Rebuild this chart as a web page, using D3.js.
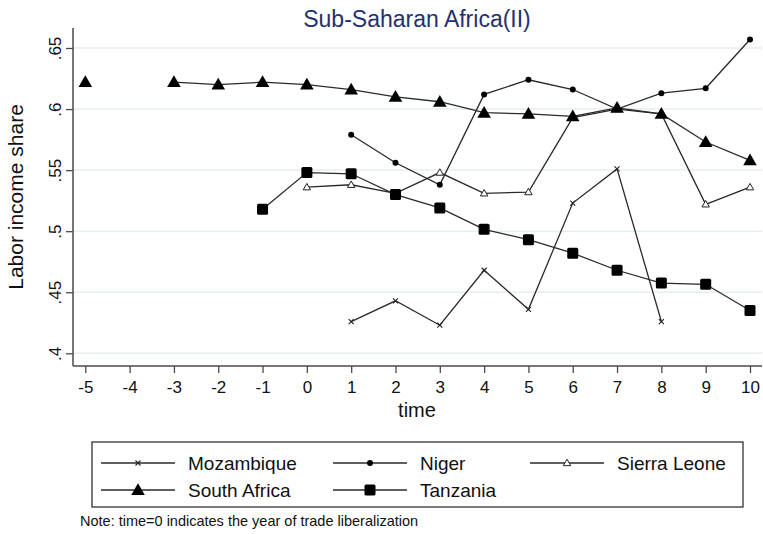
<!DOCTYPE html>
<html>
<head>
<meta charset="utf-8">
<script src="https://cdn.jsdelivr.net/npm/d3@7/dist/d3.min.js"></script>
<style>
  html, body { margin: 0; padding: 0; background: #fff; }
  svg { display: block; font-family: "Liberation Sans", Arial, sans-serif; }
</style>
</head>
<body>
<svg id="chart" width="763" height="534"></svg>
<script>
// Years relative to trade liberalization (time = 0)
const time = [-5, -4, -3, -2, -1, 0, 1, 2, 3, 4, 5, 6, 7, 8, 9, 10];

// Labor income share by country (null = no observation)
const mozambique  = [null, null, null, null, null, null, 0.426, 0.443, 0.423, 0.468, 0.436, 0.523, 0.551, 0.426, null, null];
const niger       = [null, null, null, null, null, null, 0.579, 0.556, 0.538, 0.612, 0.624, 0.616, 0.600, 0.613, 0.617, 0.657];
const sierraLeone = [null, null, null, null, null, 0.536, 0.538, 0.531, 0.548, 0.531, 0.532, 0.593, 0.600, 0.596, 0.522, 0.536];
const southAfrica = [0.622, null, 0.622, 0.620, 0.622, 0.620, 0.616, 0.610, 0.606, 0.597, 0.596, 0.594, 0.601, 0.596, 0.573, 0.558];
const tanzania    = [null, null, null, null, 0.518, 0.548, 0.547, 0.530, 0.519, 0.5015, 0.493, 0.482, 0.468, 0.4575, 0.4565, 0.435];

const xTicks = [-5, -4, -3, -2, -1, 0, 1, 2, 3, 4, 5, 6, 7, 8, 9, 10];
const yTicks = [0.4, 0.45, 0.5, 0.55, 0.6, 0.65];
const yTickLabels = [".4", ".45", ".5", ".55", ".6", ".65"];

const seriesNames = ["Mozambique", "Niger", "Sierra Leone", "South Africa", "Tanzania"];
const seriesValues = [mozambique, niger, sierraLeone, southAfrica, tanzania];
const seriesMarkers = ["x", "dot", "hollowTri", "tri", "square"];

const titleText = "Sub-Saharan Africa(II)";
const yTitle = "Labor income share";
const xTitle = "time";
const noteText = "Note: time=0 indicates the year of trade liberalization";

const svg = d3.select("#chart");

const plot = { left: 73, right: 762, top: 28, bottom: 366 };
const x = d3.scaleLinear().domain([-5, 10]).range([85.3, 750]);
const y = d3.scaleLinear().domain([0.4, 0.65]).range([353.3, 48]);

// Gridlines
svg.append("g").selectAll("line").data(yTicks).join("line")
  .attr("x1", plot.left).attr("x2", plot.right)
  .attr("y1", d => y(d)).attr("y2", d => y(d))
  .attr("stroke", "#e6eef0").attr("stroke-width", 1.5);

// Axes
const axisColor = "#4a4a4a";
const xAxis = d3.axisBottom(x).tickValues(xTicks).tickSize(7).tickPadding(8)
  .tickFormat(d3.format("d"));
const gx = svg.append("g").attr("transform", `translate(0,${plot.bottom})`).call(xAxis);
gx.select(".domain").remove();
gx.selectAll(".tick line").attr("stroke", axisColor).attr("stroke-width", 1.3);
gx.selectAll(".tick text").attr("font-size", 17).attr("fill", "#111")
  .attr("font-family", "Liberation Sans, Arial, sans-serif")
  .text(d => d < 0 ? "-" + Math.abs(d) : d);
svg.append("line").attr("x1", plot.left).attr("x2", plot.right)
  .attr("y1", plot.bottom).attr("y2", plot.bottom)
  .attr("stroke", axisColor).attr("stroke-width", 1.5);

const yAxis = d3.axisLeft(y).tickValues(yTicks).tickSize(7).tickPadding(0)
  .tickFormat((d, i) => yTickLabels[i]);
const gy = svg.append("g").attr("transform", `translate(${plot.left},0)`).call(yAxis);
gy.select(".domain").remove();
gy.selectAll(".tick line").attr("stroke", axisColor).attr("stroke-width", 1.3);
gy.selectAll(".tick text")
  .attr("font-size", 17).attr("fill", "#111")
  .attr("font-family", "Liberation Sans, Arial, sans-serif")
  .attr("x", -18).attr("dy", null)
  .attr("text-anchor", "middle")
  .attr("dominant-baseline", "central")
  .attr("transform", "rotate(-90,-18,0)");
svg.append("line").attr("x1", plot.left).attr("x2", plot.left)
  .attr("y1", plot.top).attr("y2", plot.bottom)
  .attr("stroke", axisColor).attr("stroke-width", 1.5);

// Titles
svg.append("text").attr("x", 417).attr("y", 27).attr("text-anchor", "middle")
  .attr("font-size", 23).attr("fill", "#24316f").text(titleText);
svg.append("text").attr("transform", `translate(23,197) rotate(-90)`)
  .attr("text-anchor", "middle").attr("font-size", 21).attr("fill", "#111").text(yTitle);
svg.append("text").attr("x", 417).attr("y", 417).attr("text-anchor", "middle")
  .attr("font-size", 20).attr("fill", "#111").text(xTitle);

// Marker drawing
function drawMarker(g, type, cx, cy) {
  if (type === "tri") {
    g.append("path").attr("d", d3.symbol(d3.symbolTriangle, 80)())
      .attr("transform", `translate(${cx},${cy + 1})`).attr("fill", "#000");
  } else if (type === "square") {
    g.append("rect").attr("x", cx - 5.5).attr("y", cy - 5.5).attr("width", 11).attr("height", 11)
      .attr("rx", 1.5).attr("fill", "#000");
  } else if (type === "dot") {
    g.append("circle").attr("cx", cx).attr("cy", cy).attr("r", 3).attr("fill", "#000");
  } else if (type === "hollowTri") {
    g.append("path").attr("d", d3.symbol(d3.symbolTriangle, 24)())
      .attr("transform", `translate(${cx},${cy + 0.5})`)
      .attr("fill", "#fff").attr("stroke", "#222").attr("stroke-width", 1);
  } else if (type === "x") {
    g.append("path").attr("d", `M${cx - 2.5},${cy - 2.5}L${cx + 2.5},${cy + 2.5}M${cx - 2.5},${cy + 2.5}L${cx + 2.5},${cy - 2.5}`)
      .attr("stroke", "#222").attr("stroke-width", 1.1);
  }
}

const line = d3.line()
  .defined(d => d.v !== null)
  .x(d => x(d.t)).y(d => y(d.v));

// Draw lines then markers for each country
seriesValues.forEach((vals, si) => {
  const pts = time.map((t, i) => ({ t, v: vals[i] }));
  svg.append("path").datum(pts).attr("d", line)
    .attr("fill", "none").attr("stroke", "#2a2a2a").attr("stroke-width", 1.3);
});
seriesValues.forEach((vals, si) => {
  const g = svg.append("g");
  time.forEach((t, i) => {
    if (vals[i] !== null) drawMarker(g, seriesMarkers[si], x(t), y(vals[i]));
  });
});

// Legend
const legend = svg.append("g");
legend.append("rect").attr("x", 92).attr("y", 442).attr("width", 651).attr("height", 65)
  .attr("fill", "#fff").attr("stroke", "#333").attr("stroke-width", 1.3);
const colX = [101, 333, 530];
const rowY = [463, 490];
seriesNames.forEach((name, i) => {
  const col = i < 3 ? i : i - 3;
  const row = i < 3 ? 0 : 1;
  const lx = colX[col], ly = rowY[row];
  legend.append("line").attr("x1", lx).attr("x2", lx + 74).attr("y1", ly).attr("y2", ly)
    .attr("stroke", "#2a2a2a").attr("stroke-width", 1.3);
  drawMarker(legend, seriesMarkers[i], lx + 37, ly);
  legend.append("text").attr("x", lx + 87).attr("y", ly).attr("dy", "0.36em")
    .attr("font-size", 19).attr("fill", "#111").text(name);
});

// Note
svg.append("text").attr("x", 80).attr("y", 526).attr("font-size", 14.5).attr("fill", "#111").text(noteText);
</script>
</body>
</html>
